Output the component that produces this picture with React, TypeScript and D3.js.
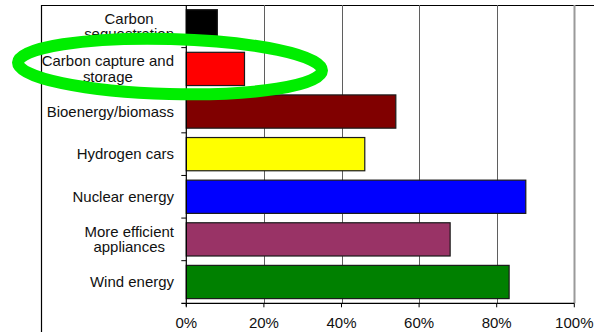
import React, { useEffect, useRef } from 'react';
import * as d3 from 'd3';

// categories top to bottom, values are percent of respondents
const categories = [
  'Carbon sequestration',
  'Carbon capture and storage',
  'Bioenergy/biomass',
  'Hydrogen cars',
  'Nuclear energy',
  'More efficient appliances',
  'Wind energy',
];
const labelLines = [
  ['Carbon', 'sequestration'],
  ['Carbon capture and', 'storage'],
  ['Bioenergy/biomass'],
  ['Hydrogen cars'],
  ['Nuclear energy'],
  ['More efficient', 'appliances'],
  ['Wind energy'],
];
const values = [8, 15, 54, 46, 87.5, 68, 83.2];
const barColors = ['#000000', '#ff0000', '#800000', '#ffff00', '#0000ff', '#993366', '#008000'];
const xTicks = [0, 20, 40, 60, 80, 100];

const W = 594;
const H = 332;

const App: React.FC = () => {
  const svgRef = useRef<SVGSVGElement | null>(null);

  useEffect(() => {
    const svg = d3.select(svgRef.current);
    svg.selectAll('*').remove();

    const x = d3.scaleLinear().domain([0, 100]).range([186.3, 574.3]);
    const y = d3.scaleBand<string>()
      .domain(categories)
      .range([5, 303.3])
      .paddingInner(0.22)
      .paddingOuter(0.11);
    const step = y.step();
    const top = 5;
    const bottom = 303.3;

    // outer frame
    svg.append('line').attr('x1', 41.5).attr('x2', 41.5).attr('y1', 5).attr('y2', H)
      .attr('stroke', '#000').attr('stroke-width', 1.2);
    svg.append('line').attr('x1', 41).attr('x2', W).attr('y1', 5.5).attr('y2', 5.5)
      .attr('stroke', '#000').attr('stroke-width', 1.2);

    // gridlines
    svg.append('g').selectAll('line')
      .data(xTicks.slice(1))
      .join('line')
      .attr('x1', d => Math.round(x(d)) + 0.5)
      .attr('x2', d => Math.round(x(d)) + 0.5)
      .attr('y1', top)
      .attr('y2', bottom)
      .attr('stroke', d => (d === 100 ? '#9a9a9a' : '#5f5f5f'))
      .attr('stroke-width', d => (d === 100 ? 2 : 1));

    // bars
    svg.append('g').selectAll('rect')
      .data(values)
      .join('rect')
      .attr('x', x(0))
      .attr('y', (d, i) => y(categories[i])!)
      .attr('width', d => x(d) - x(0))
      .attr('height', y.bandwidth())
      .attr('fill', (d, i) => barColors[i])
      .attr('stroke', '#1a1a1a')
      .attr('stroke-width', 1.2);

    // axes lines
    svg.append('line').attr('x1', x(0)).attr('x2', x(0)).attr('y1', top).attr('y2', bottom + 3)
      .attr('stroke', '#000').attr('stroke-width', 1.2);
    svg.append('line').attr('x1', x(0) - 5).attr('x2', x(100)).attr('y1', bottom).attr('y2', bottom)
      .attr('stroke', '#000').attr('stroke-width', 1.2);

    // y ticks at band boundaries
    svg.append('g').selectAll('line')
      .data(d3.range(1, categories.length))
      .join('line')
      .attr('x1', x(0) - 5)
      .attr('x2', x(0))
      .attr('y1', d => top + d * step)
      .attr('y2', d => top + d * step)
      .attr('stroke', '#000');

    // x ticks
    svg.append('g').selectAll('line')
      .data(xTicks)
      .join('line')
      .attr('x1', d => x(d))
      .attr('x2', d => x(d))
      .attr('y1', bottom)
      .attr('y2', bottom + 4)
      .attr('stroke', '#000');

    svg.append('g').selectAll('text')
      .data(xTicks)
      .join('text')
      .attr('x', d => x(d))
      .attr('y', 328)
      .attr('text-anchor', 'middle')
      .attr('font-family', 'Liberation Sans, Arial, sans-serif')
      .attr('font-size', 15)
      .attr('fill', '#111')
      .text(d => `${d}%`);

    // category labels, centred lines in a block right-aligned at x=174
    // (the source text is a little stretched sideways)
    const labels = svg.append('g')
      .attr('transform', 'translate(174,0) scale(1.07,1) translate(-174,0)')
      .attr('font-family', 'Liberation Sans, Arial, sans-serif')
      .attr('font-size', 14)
      .attr('fill', '#111');
    labelLines.forEach((lines, i) => {
      const c = y(categories[i])! + y.bandwidth() / 2;
      const t = labels.append('text').attr('text-anchor', 'middle');
      const tspans = lines.map((ln, j) =>
        t.append('tspan')
          .attr('y', lines.length === 1 ? c + 5 : c - 2.5 + j * 15.5)
          .text(ln));
      let maxW = 0;
      tspans.forEach(ts => {
        const n = ts.node() as SVGTSpanElement;
        maxW = Math.max(maxW, n.getComputedTextLength());
      });
      tspans.forEach(ts => ts.attr('x', 174 - maxW / 2));
    });

    // green highlight ellipse
    svg.append('ellipse')
      .attr('cx', 170)
      .attr('cy', 66.5)
      .attr('rx', 152)
      .attr('ry', 27.5)
      .attr('transform', 'rotate(1.5 170 66.5)')
      .attr('fill', 'none')
      .attr('stroke', '#00ee00')
      .attr('stroke-width', 12);

    return () => {
      svg.selectAll('*').remove();
    };
  }, []);

  return (
    <svg ref={svgRef} width={W} height={H}
      style={{ position: 'absolute', left: 0, top: 0, background: '#fff' }} />
  );
};

export default App;
